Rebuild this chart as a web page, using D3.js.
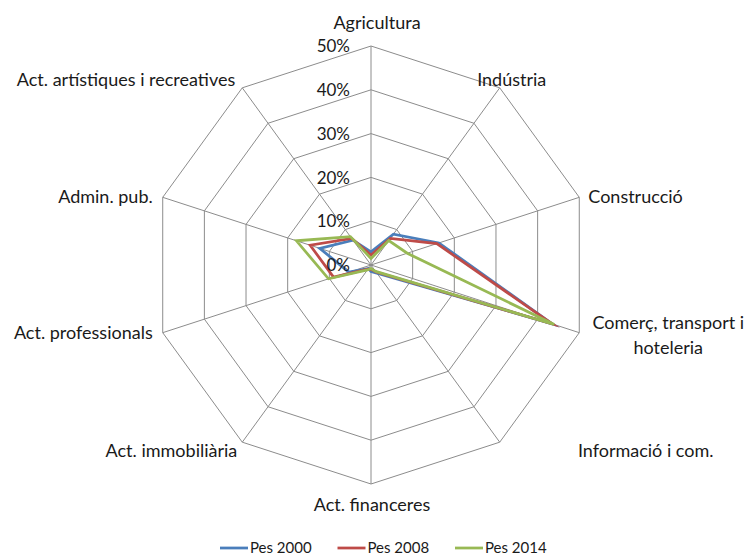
<!DOCTYPE html>
<html>
<head>
<meta charset="utf-8">
<script src="https://cdn.jsdelivr.net/npm/d3@7"></script>
<style>
  body { margin: 0; background: #fff; }
  text { font-family: Lato, "Open Sans", sans-serif; fill: #1a1a1a; }
</style>
</head>
<body>
<svg width="747" height="560"></svg>
<script>
// categories and series (percent of total)
const categories = ["Agricultura", "Indústria", "Construcció", "Comerç, transport i|hoteleria",
  "Informació i com.", "Act. financeres", "Act. immobiliària", "Act. professionals",
  "Admin. pub.", "Act. artístiques i recreatives"];
const pes2000 = [3.0, 8.7, 16.3, 43.5, 2.3, 1.5, 1.0, 5.3, 12.3, 7.0];
const pes2008 = [2.3, 7.5, 15.8, 43.5, 2.0, 1.0, 1.2, 9.0, 14.6, 7.5];
const pes2014 = [1.5, 6.9, 8.7, 44.0, 1.8, 0.8, 1.4, 10.2, 17.9, 8.0];
const seriesNames = ["Pes 2000", "Pes 2008", "Pes 2014"];
const ticks = [0, 10, 20, 30, 40, 50];

const colors = ["#4a7ebb", "#be4b48", "#98b954"];
const series = [pes2000, pes2008, pes2014];

// layout
const cx = 371, cy = 265, R = 219;
// label placement relative to the outer vertex (anchor, dx, dy)
const labelNudge = [
  ["middle", 6, -23], ["middle", 12, -8], ["start", 9, -1], ["middle", 89, -10],
  ["middle", 146, 8], ["middle", 1, 21], ["end", -5, 8], ["end", -10, 0],
  ["end", -10, -1], ["end", -7, -8]
];

const svg = d3.select('svg');
const g = svg.append('g').attr('transform', 'translate(' + cx + ',' + cy + ')');

const r = d3.scaleLinear().domain([0, 50]).range([0, R]);
const angle = d3.scaleLinear().domain([0, categories.length]).range([0, 2 * Math.PI]);

var pt = function(i, v){
  var a = angle(i);
  return [r(v) * Math.sin(a), -r(v) * Math.cos(a)];
}

// grid rings
var ringLine = d3.line();
ticks.slice(1).forEach(function(t){
  var pts = categories.map((c, i) => pt(i, t));
  g.append('path')
    .attr('d', ringLine(pts) + 'Z')
    .attr('fill', 'none')
    .attr('stroke', '#8c8c8c')
    .attr('stroke-width', 1);
});

// spokes
categories.forEach(function(c, i){
  var p = pt(i, 50);
  g.append('line')
    .attr('x1', 0).attr('y1', 0)
    .attr('x2', p[0]).attr('y2', p[1])
    .attr('stroke', '#8c8c8c')
    .attr('stroke-width', 1);
});

// series
var radial = d3.line().x(d => d[0]).y(d => d[1]);
series.forEach(function(s, k){
  var pts = s.map((v, i) => pt(i, v));
  g.append('path')
    .attr('d', radial(pts) + 'Z')
    .attr('fill', 'none')
    .attr('stroke', colors[k])
    .attr('stroke-width', 2.75)
    .attr('stroke-linejoin', 'miter')
    .attr('stroke-miterlimit', 10);
});

// tick labels
ticks.forEach(function(t){
  g.append('text')
    .attr('x', -21)
    .attr('y', -r(t))
    .attr('dy', '0.36em')
    .attr('text-anchor', 'end')
    .style('font-size', '17px')
    .text(t + '%');
});

// category labels
categories.forEach(function(c, i){
  var p = pt(i, 50);
  var nudge = labelNudge[i];
  var lines = c.split('|');
  var txt = g.append('text')
    .attr('text-anchor', nudge[0])
    .style('font-size', '18px');
  lines.forEach(function(l, j){
    txt.append('tspan')
      .attr('x', p[0] + nudge[1])
      .attr('y', p[1] + nudge[2] + j * 25)
      .attr('dy', '0.36em')
      .text(l);
  });
});

// legend
const legend = svg.append('g').attr('transform', 'translate(220,548)');
var legendX = d3.scalePoint().domain(seriesNames).range([0, 235]);
seriesNames.forEach(function(n, k){
  var lg = legend.append('g').attr('transform', 'translate(' + legendX(n) + ',0)');
  lg.append('line')
    .attr('x1', 0).attr('x2', 28)
    .attr('stroke', colors[k])
    .attr('stroke-width', 2.75);
  lg.append('text')
    .attr('x', 30)
    .attr('dy', '0.36em')
    .style('font-size', '15px')
    .text(n);
});
</script>
</body>
</html>
